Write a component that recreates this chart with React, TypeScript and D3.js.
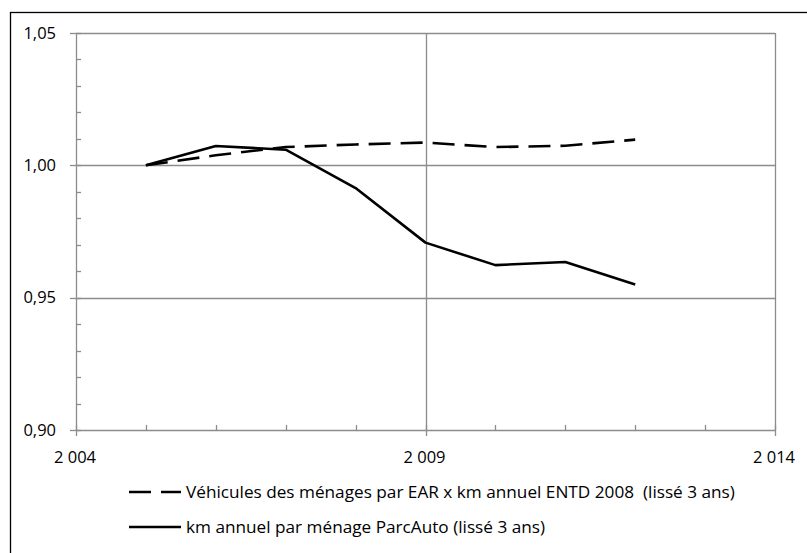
import React, { useRef, useEffect } from "react";
import * as d3 from "d3";

const years = [2005, 2006, 2007, 2008, 2009, 2010, 2011, 2012];
const vehiculesEAR = [1.0, 1.0038, 1.0069, 1.0079, 1.0086, 1.0069, 1.0074, 1.0097];
const kmParcAuto = [1.0, 1.0073, 1.0059, 0.9914, 0.9708, 0.9623, 0.9635, 0.955];

const yTicks = [0.9, 0.95, 1.0, 1.05];
const xTicks = [2004, 2009, 2014];
const xTickLabels = ["2 004", "2 009", "2 014"];
const legendLabels = [
  "Véhicules des ménages par EAR x km annuel ENTD 2008  (lissé 3 ans)",
  "km annuel par ménage ParcAuto (lissé 3 ans)",
];

const dims = {
  width: 807,
  height: 553,
  left: 76,
  right: 775,
  top: 33,
  bottom: 430,
};

const FONT = "'Open Sans', 'Liberation Sans', sans-serif";
const GRID = "#8c8c8c";

const App = () => {
  const ref = useRef<SVGSVGElement>(null);

  useEffect(() => {
    const svg = d3.select(ref.current);
    svg.selectAll("*").remove();

    const xScale = d3.scaleLinear().domain([2004, 2014]).range([dims.left, dims.right]);
    const yScale = d3.scaleLinear().domain([0.9, 1.05]).range([dims.bottom, dims.top]);

    // outer chart border (cut by the window on right and bottom)
    svg
      .append("rect")
      .attr("x", 10.5)
      .attr("y", 12.5)
      .attr("width", 820)
      .attr("height", 600)
      .attr("fill", "white")
      .attr("stroke", "black")
      .attr("stroke-width", 1.3);

    const grid = svg.append("g").attr("stroke", GRID).attr("stroke-width", 1.3);

    // horizontal gridlines
    grid
      .selectAll("line.h")
      .data(yTicks)
      .join("line")
      .attr("x1", dims.left)
      .attr("x2", dims.right)
      .attr("y1", (d) => Math.round(yScale(d)) + 0.5)
      .attr("y2", (d) => Math.round(yScale(d)) + 0.5);

    // vertical gridlines
    grid
      .selectAll("line.v")
      .data(xTicks)
      .join("line")
      .attr("class", "v")
      .attr("x1", (d) => Math.round(xScale(d)) + 0.5)
      .attr("x2", (d) => Math.round(xScale(d)) + 0.5)
      .attr("y1", dims.top)
      .attr("y2", dims.bottom);

    // y ticks: major outward, minor inward
    const yMinor = d3.range(0, 16).map((i) => 0.9 + i * 0.01);
    grid
      .selectAll("line.ymin")
      .data(yMinor)
      .join("line")
      .attr("class", "ymin")
      .attr("x1", dims.left)
      .attr("x2", dims.left + 5)
      .attr("y1", (d) => Math.round(yScale(d)) + 0.5)
      .attr("y2", (d) => Math.round(yScale(d)) + 0.5);
    grid
      .selectAll("line.ymaj")
      .data(yTicks)
      .join("line")
      .attr("class", "ymaj")
      .attr("x1", dims.left - 6)
      .attr("x2", dims.left)
      .attr("y1", (d) => Math.round(yScale(d)) + 0.5)
      .attr("y2", (d) => Math.round(yScale(d)) + 0.5);

    // x ticks: minor inward every year, major outward
    const xMinor = d3.range(2004, 2015);
    grid
      .selectAll("line.xmin")
      .data(xMinor)
      .join("line")
      .attr("class", "xmin")
      .attr("x1", (d) => Math.round(xScale(d)) + 0.5)
      .attr("x2", (d) => Math.round(xScale(d)) + 0.5)
      .attr("y1", dims.bottom - 5)
      .attr("y2", dims.bottom);
    grid
      .selectAll("line.xmaj")
      .data(xTicks)
      .join("line")
      .attr("class", "xmaj")
      .attr("x1", (d) => Math.round(xScale(d)) + 0.5)
      .attr("x2", (d) => Math.round(xScale(d)) + 0.5)
      .attr("y1", dims.bottom)
      .attr("y2", dims.bottom + 6);

    // tick labels
    svg
      .append("g")
      .selectAll("text")
      .data(yTicks)
      .join("text")
      .attr("x", dims.left - 20)
      .attr("y", (d) => yScale(d))
      .attr("dy", "0.35em")
      .attr("text-anchor", "end")
      .attr("font-family", FONT)
      .attr("font-size", 16.5)
      .text((d) => d3.format(".2f")(d).replace(".", ","));

    svg
      .append("g")
      .selectAll("text")
      .data(xTicks)
      .join("text")
      .attr("x", (d) => xScale(d) - 1)
      .attr("y", dims.bottom + 33)
      .attr("text-anchor", "middle")
      .attr("font-family", FONT)
      .attr("font-size", 16.5)
      .text((d, i) => xTickLabels[i]);

    // series
    const line = d3
      .line<number>()
      .x((d, i) => xScale(years[i]))
      .y((d) => yScale(d));

    svg
      .append("path")
      .attr("d", line(vehiculesEAR))
      .attr("fill", "none")
      .attr("stroke", "black")
      .attr("stroke-width", 2.6)
      .attr("stroke-dasharray", "22,10");

    svg
      .append("path")
      .attr("d", line(kmParcAuto))
      .attr("fill", "none")
      .attr("stroke", "black")
      .attr("stroke-width", 2.6)
      .attr("stroke-linejoin", "round");

    // legend
    const legend = svg.append("g");
    const legendY = [492, 527];
    legendLabels.forEach((label, i) => {
      legend
        .append("line")
        .attr("x1", 129)
        .attr("x2", 181)
        .attr("y1", legendY[i])
        .attr("y2", legendY[i])
        .attr("stroke", "black")
        .attr("stroke-width", 2.6)
        .attr("stroke-dasharray", i === 0 ? "22,10" : null);
      legend
        .append("text")
        .attr("x", 186)
        .attr("y", legendY[i])
        .attr("dy", "0.35em")
        .attr("font-family", FONT)
        .attr("font-size", 17.2)
        .style("white-space", "pre")
        .text(label);
    });

    return () => undefined;
  }, []);

  return (
    <svg
      ref={ref}
      width={dims.width}
      height={dims.height}
      style={{ position: "absolute", left: 0, top: 0, background: "white" }}
    ></svg>
  );
};

export default App;
